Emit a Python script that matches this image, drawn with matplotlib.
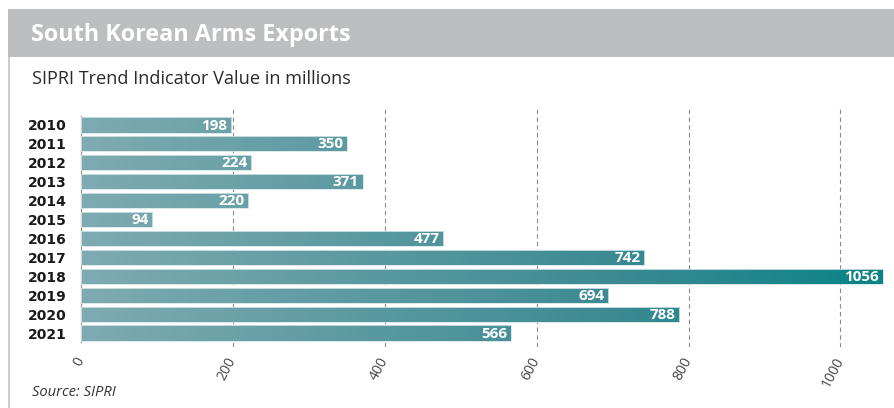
import matplotlib
matplotlib.use("Agg")
import matplotlib.pyplot as plt
import numpy as np
from matplotlib.colors import LinearSegmentedColormap
from matplotlib.lines import Line2D
from matplotlib.patches import Rectangle

years = ["2010", "2011", "2012", "2013", "2014", "2015", "2016", "2017", "2018", "2019", "2020", "2021"]
values = [198, 350, 224, 371, 220, 94, 477, 742, 1056, 694, 788, 566]
xticks = [0, 200, 400, 600, 800, 1000]

title = "South Korean Arms Exports"
subtitle = "SIPRI Trend Indicator Value in millions"
source = "Source: SIPRI"

W, H = 895, 408
fig = plt.figure(figsize=(W / 100, H / 100), dpi=100)
fig.patch.set_facecolor("white")

def px(x, y):
    return x / W, 1 - y / H

# header band
fig.patches.append(Rectangle((8 / W, 1 - 57 / H), 1 - 8 / W, 48 / H, transform=fig.transFigure,
                             facecolor="#bdbec0", edgecolor="none", zorder=0))
fig.lines.append(Line2D([9 / W, 9 / W], [0, 1 - 57 / H], transform=fig.transFigure,
                        color="#c4c4c4", lw=1.2))
fig.text(*px(31, 35), title, color="white", fontsize=16.8, fontweight="bold",
         family="Open Sans", va="center", ha="left")
fig.text(*px(32, 79), subtitle, color="#2a2a2a", fontsize=13.1,
         family="Open Sans", va="center", ha="left")
fig.text(*px(32, 392), source, color="#333333", fontsize=10.6, style="italic",
         family="Open Sans", va="center", ha="left")

# axes
ax_l, ax_r, ax_t, ax_b = 81, 886, 107, 347
ax = fig.add_axes([ax_l / W, 1 - ax_b / H, (ax_r - ax_l) / W, (ax_b - ax_t) / H])
ax.set_facecolor("none")
xmax = 1060
ax.set_xlim(0, xmax)
ypos = np.arange(len(years))
ax.set_ylim(len(years) - 1 + 0.74, -0.95)

cmap = LinearSegmentedColormap.from_list("g", ["#7eabb1", "#5d9aa2", "#3c8a92", "#0a8488"])
bars = ax.barh(ypos, values, height=0.8, color="none", edgecolor="#d6e6e8", linewidth=0.6, zorder=3)
vmax = max(values)
for b, v in zip(bars, values):
    y0 = b.get_y()
    h = b.get_height()
    sub = np.linspace(0, v / vmax, 256).reshape(1, -1)
    im = ax.imshow(sub, cmap=cmap, vmin=0, vmax=1, aspect="auto",
                   extent=[0, v, y0 + h, y0], zorder=2, interpolation="bilinear")
    im.set_clip_path(b)
    ax.text(v - 5, b.get_y() + h / 2 + 0.03, str(v), color="white", fontsize=11,
            fontweight="bold", family="Open Sans", ha="right", va="center", zorder=5)

ax.set_xticks(xticks)
ax.set_xticklabels([str(t) for t in xticks], rotation=62, ha="right", va="center",
                   rotation_mode="anchor", color="#444444", fontsize=10, family="Open Sans")
ax.tick_params(axis="x", length=0, pad=8)
ax.set_yticks(ypos)
ax.set_yticklabels(years, fontsize=10, fontweight="bold", family="DejaVu Sans", color="#1a1a1a")
ax.tick_params(axis="y", length=0, pad=10)

for t in xticks[1:]:
    ax.axvline(t, color="#8a8a8a", lw=0.8, ls=(0, (4, 3)), zorder=1)

for s in ["top", "right", "bottom"]:
    ax.spines[s].set_visible(False)
ax.spines["left"].set_color("#999999")
ax.spines["left"].set_linewidth(0.9)
ax.spines["left"].set_bounds(-0.48, len(years) - 1 + 0.47)

fig.savefig("out.png", dpi=100)
